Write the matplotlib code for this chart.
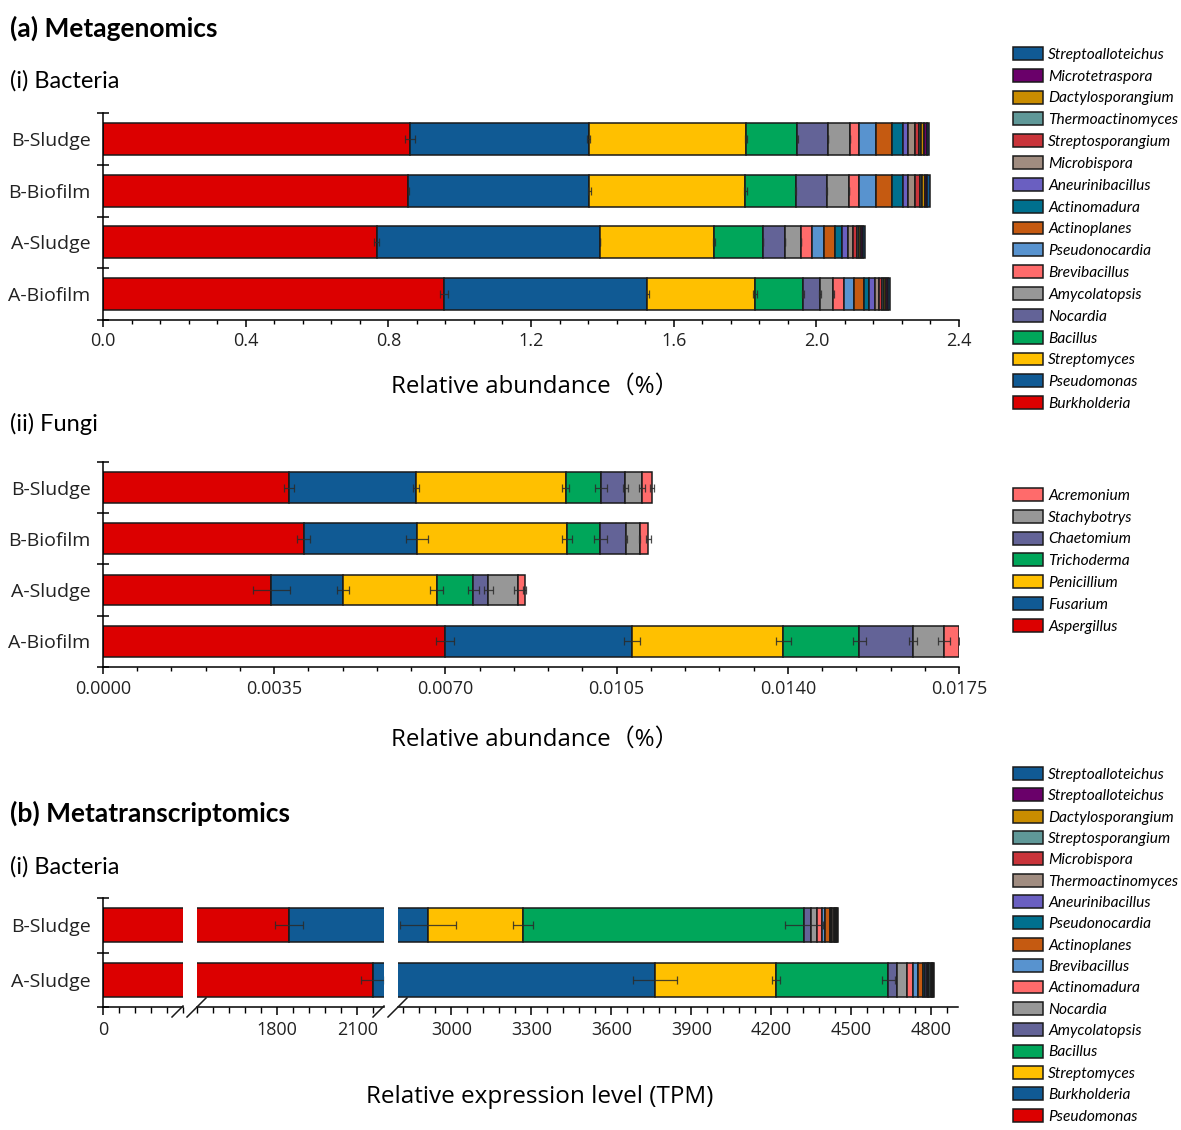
import numpy as np
import matplotlib
matplotlib.use('Agg')
import matplotlib.pyplot as plt
from matplotlib.patches import Patch
from matplotlib.lines import Line2D
from matplotlib.ticker import MultipleLocator, FixedLocator
from matplotlib.font_manager import FontProperties

plt.rcParams['font.family'] = ['Open Sans', 'Noto Sans CJK SC', 'DejaVu Sans']

# colours
RED = '#DC0000'; BLUE = '#105A94'; YELLOW = '#FFC000'; GREEN = '#00A65A'
SLATE = '#636397'; GREY = '#979797'; SALMON = '#FF6B6B'; LBLUE = '#5893CF'
ORANGE = '#C55A11'; TEAL = '#00708E'; VIOLET = '#6A5FC1'; TAUPE = '#A08C80'
CRIMSON = '#C9343A'; SEAGRAY = '#5F9898'; OCHRE = '#C98C00'; PURPLE = '#6A006A'

samples4 = ['B-Sludge', 'B-Biofilm', 'A-Sludge', 'A-Biofilm']
samples2 = ['B-Sludge', 'A-Sludge']

# ---- (a)(i) metagenomics, bacteria (%)
bac_species = ['Burkholderia', 'Pseudomonas', 'Streptomyces', 'Bacillus', 'Nocardia',
               'Amycolatopsis', 'Brevibacillus', 'Pseudonocardia', 'Actinoplanes',
               'Actinomadura', 'Aneurinibacillus', 'Microbispora', 'Streptosporangium',
               'Thermoactinomyces', 'Dactylosporangium', 'Microtetraspora', 'Streptoalloteichus']
bac_colors = [RED, BLUE, YELLOW, GREEN, SLATE, GREY, SALMON, LBLUE, ORANGE, TEAL,
              VIOLET, TAUPE, CRIMSON, SEAGRAY, OCHRE, PURPLE, BLUE]
bac_b_sludge = [0.861, 0.501, 0.441, 0.144, 0.087, 0.060, 0.027, 0.046, 0.045, 0.030,
                0.016, 0.019, 0.012, 0.005, 0.009, 0.006, 0.008]
bac_b_biofilm = [0.856, 0.507, 0.438, 0.141, 0.087, 0.063, 0.028, 0.047, 0.044, 0.031,
                 0.014, 0.022, 0.012, 0.005, 0.009, 0.006, 0.008]
bac_a_sludge = [0.767, 0.626, 0.320, 0.137, 0.062, 0.044, 0.031, 0.035, 0.030, 0.021,
                0.015, 0.014, 0.011, 0.007, 0.006, 0.006, 0.005]
bac_a_biofilm = [0.956, 0.570, 0.302, 0.134, 0.048, 0.038, 0.030, 0.028, 0.028, 0.015,
                 0.016, 0.012, 0.007, 0.006, 0.005, 0.006, 0.006]
bac_err_b_sludge = [0.013, 0.004, 0.003, 0.001, 0.0, 0.0]
bac_err_b_biofilm = [0.002, 0.004, 0.004, 0.002, 0.001, 0.0]
bac_err_a_sludge = [0.008, 0.0, 0.002, 0.0, 0.0, 0.0]
bac_err_a_biofilm = [0.012, 0.004, 0.005, 0.003, 0.002, 0.002]

# ---- (a)(ii) metagenomics, fungi (%)
fun_species = ['Aspergillus', 'Fusarium', 'Penicillium', 'Trichoderma', 'Chaetomium',
               'Stachybotrys', 'Acremonium']
fun_colors = [RED, BLUE, YELLOW, GREEN, SLATE, GREY, SALMON]
fun_b_sludge = [0.00380, 0.00260, 0.00306, 0.00072, 0.00050, 0.00034, 0.00021]
fun_b_biofilm = [0.00410, 0.00232, 0.00307, 0.00068, 0.00053, 0.00027, 0.00018]
fun_a_sludge = [0.00344, 0.00147, 0.00191, 0.00075, 0.00031, 0.00061, 0.00014]
fun_a_biofilm = [0.00699, 0.00382, 0.00310, 0.00155, 0.00110, 0.00063, 0.00032]
fun_err_b_sludge = [0.00010, 0.00007, 0.00007, 0.00012, 0.00005, 0.00007, 0.00004]
fun_err_b_biofilm = [0.00013, 0.00022, 0.00010, 0.00013, 0.00002, 0.00001, 0.00005]
fun_err_a_sludge = [0.00038, 0.00012, 0.00014, 0.00011, 0.00009, 0.00009, 0.00002]
fun_err_a_biofilm = [0.00019, 0.00016, 0.00015, 0.00013, 0.00008, 0.00012, 0.00001]

# ---- (b)(i) metatranscriptomics, bacteria (TPM)
tr_species = ['Pseudomonas', 'Burkholderia', 'Streptomyces', 'Bacillus', 'Amycolatopsis',
              'Nocardia', 'Actinomadura', 'Brevibacillus', 'Actinoplanes', 'Pseudonocardia',
              'Aneurinibacillus', 'Thermoactinomyces', 'Microbispora', 'Streptosporangium',
              'Dactylosporangium', 'Streptoalloteichus', 'Streptoalloteichus']
tr_colors = [RED, BLUE, YELLOW, GREEN, SLATE, GREY, SALMON, LBLUE, ORANGE, TEAL,
             VIOLET, TAUPE, CRIMSON, SEAGRAY, OCHRE, PURPLE, BLUE]
tr_b_sludge = [1844, 1067, 358, 1055, 23, 23, 21, 11, 17, 5, 5, 5, 4, 3, 4, 3, 3]
tr_a_sludge = [2160, 1604, 454, 421, 34, 35, 22, 21, 16, 9, 6, 6, 5, 4, 5, 4, 4]
tr_err_b_sludge = [53, 105, 38, 71]
tr_err_a_sludge = [45, 82, 16, 24]

W, H = 1181, 1130
fig = plt.figure(figsize=(W / 100, H / 100), dpi=100)


def rect(x0, y0, x1, y1):
    return [x0 / W, 1 - y1 / H, (x1 - x0) / W, (y1 - y0) / H]


def stacked(ax, samples, rows, errs, colors, height):
    for j, (row, err) in enumerate(zip(rows, errs)):
        left = 0
        ends = []
        for v, c in zip(row, colors):
            ax.barh(j, v, left=left, height=height, color=c, edgecolor='#1a1a1a', linewidth=1.1)
            left += v
            ends.append(left)
        ax.errorbar(ends[:len(err)], [j] * len(err), xerr=err, fmt='none',
                    ecolor='#2b2b2b', elinewidth=0.9, capsize=3.2, capthick=0.9, alpha=0.85)
    n = len(samples)
    ax.set_ylim(n - 0.5, -0.5)


def style_y(ax, samples):
    n = len(samples)
    ax.set_yticks(np.arange(-0.5, n), labels=[''] * (n + 1))
    ax.set_yticks(np.arange(n), labels=samples, minor=True)
    ax.tick_params(axis='y', which='major', direction='inout', length=8, width=1.1)
    ax.tick_params(axis='y', which='minor', length=0, labelsize=14, pad=9, labelcolor='#222222')
    ax.spines[['top', 'right']].set_visible(False)
    ax.spines[['left', 'bottom']].set_linewidth(1.1)


def style_x(ax):
    ax.tick_params(axis='x', which='major', direction='out', length=5, width=1.1,
                   labelsize=13, pad=4, labelcolor='#222222')
    ax.tick_params(axis='x', which='minor', direction='out', length=3, width=1.0)


# (a)(i)
ax1 = fig.add_axes(rect(103, 113, 959, 320))
stacked(ax1, samples4, [bac_b_sludge, bac_b_biofilm, bac_a_sludge, bac_a_biofilm],
        [bac_err_b_sludge, bac_err_b_biofilm, bac_err_a_sludge, bac_err_a_biofilm],
        bac_colors, 0.62)
ax1.set_xlim(0, 2.4)
ax1.xaxis.set_major_locator(MultipleLocator(0.4))
ax1.xaxis.set_minor_locator(MultipleLocator(0.08))
ax1.xaxis.set_major_formatter(lambda v, p: f'{v:.1f}')
style_y(ax1, samples4)
style_x(ax1)

# (a)(ii)
ax2 = fig.add_axes(rect(103, 462, 959, 667))
stacked(ax2, samples4, [fun_b_sludge, fun_b_biofilm, fun_a_sludge, fun_a_biofilm],
        [fun_err_b_sludge, fun_err_b_biofilm, fun_err_a_sludge, fun_err_a_biofilm],
        fun_colors, 0.6)
ax2.set_xlim(0, 0.0175)
ax2.xaxis.set_major_locator(MultipleLocator(0.0035))
ax2.xaxis.set_minor_locator(MultipleLocator(0.0007))
ax2.xaxis.set_major_formatter(lambda v, p: f'{v:.4f}')
style_y(ax2, samples4)
style_x(ax2)

# (b)(i) broken axis
b_ranges = [(0, 300), (1500, 2200), (2800, 4900)]
b_pix = [(103, 183), (197, 384), (398, 958)]
b_major = [[0], [1800, 2100], [3000, 3300, 3600, 3900, 4200, 4500, 4800]]
b_axes = []
for (lo, hi), (p0, p1), maj in zip(b_ranges, b_pix, b_major):
    ax = fig.add_axes(rect(p0, 898, p1, 1007))
    stacked(ax, samples2, [tr_b_sludge, tr_a_sludge], [tr_err_b_sludge, tr_err_a_sludge],
            tr_colors, 0.62)
    ax.set_xlim(lo, hi)
    ax.xaxis.set_major_locator(FixedLocator(maj))
    ax.xaxis.set_minor_locator(MultipleLocator(60))
    style_y(ax, samples2)
    style_x(ax)
    ax.tick_params(axis='x', which='major', length=6)
    ax.tick_params(axis='x', which='minor', length=4)
    b_axes.append(ax)
for ax in b_axes[1:]:
    ax.spines['left'].set_visible(False)
    ax.tick_params(axis='y', which='both', left=False, labelleft=False)

# break marks
for x0 in (172, 373):
    for dx, ln in ((0, 11), (15, 19)):
        xa = x0 + dx
        fig.add_artist(Line2D([xa / W, (xa + ln) / W], [1 - 1017 / H, 1 - (1017 - ln) / H],
                              color='#1a1a1a', lw=1.1, transform=fig.transFigure))

# texts
head = dict(family=['Lato', 'DejaVu Sans'], color='black')
fig.text(10 / W, 1 - 28 / H, '(a) Metagenomics', fontsize=19, fontweight='bold', va='center', **head)
fig.text(10 / W, 1 - 81 / H, '(i) Bacteria', fontsize=17, va='center', **head)
fig.text(10 / W, 1 - 424 / H, '(ii) Fungi', fontsize=17, va='center', **head)
fig.text(10 / W, 1 - 813 / H, '(b) Metatranscriptomics', fontsize=19, fontweight='bold', va='center', **head)
fig.text(10 / W, 1 - 867 / H, '(i) Bacteria', fontsize=17, va='center', **head)

fig.text(535 / W, 1 - 387 / H, 'Relative abundance（%）', fontsize=17.3, ha='center', va='center')
fig.text(535 / W, 1 - 740 / H, 'Relative abundance（%）', fontsize=17.3, ha='center', va='center')
fig.text(540 / W, 1 - 1097 / H, 'Relative expression level (TPM)', fontsize=17.5, ha='center', va='center')

# legends
leg_font = FontProperties(family=['Lato', 'DejaVu Sans'], style='italic', size=11.2)


def add_legend(species, colors, top, spacing):
    handles = [Patch(facecolor=c, edgecolor='#1a1a1a', linewidth=1.1, label=s)
               for s, c in zip(species, colors)][::-1]
    fig.legend(handles=handles, loc='upper left', bbox_to_anchor=(1013 / W, 1 - top / H),
               frameon=False, prop=leg_font, handlelength=1.95, handleheight=0.9,
               handletextpad=0.3, labelspacing=spacing, borderpad=0, borderaxespad=0)


add_legend(bac_species, bac_colors, 47, 0.45)
add_legend(fun_species, fun_colors, 488, 0.45)
add_legend(tr_species, tr_colors, 767, 0.42)

fig.savefig('out.png', dpi=100)
